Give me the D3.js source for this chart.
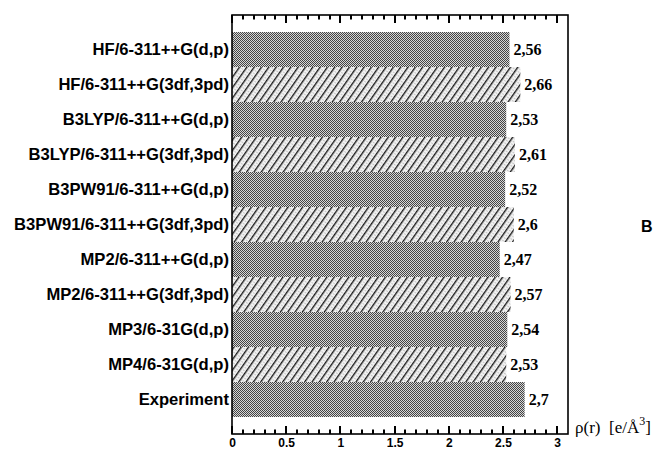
<!DOCTYPE html>
<html lang="en">
<head>
<meta charset="UTF-8">
<title>Electron density at bond critical point</title>
<script src="https://d3js.org/d3.v7.min.js"></script>
<style>
  body { margin: 0; background: #fff; }
  svg { display: block; }
</style>
</head>
<body>
<div id="chart"></div>
<script>
    const categories = [
        "HF/6-311++G(d,p)",
        "HF/6-311++G(3df,3pd)",
        "B3LYP/6-311++G(d,p)",
        "B3LYP/6-311++G(3df,3pd)",
        "B3PW91/6-311++G(d,p)",
        "B3PW91/6-311++G(3df,3pd)",
        "MP2/6-311++G(d,p)",
        "MP2/6-311++G(3df,3pd)",
        "MP3/6-31G(d,p)",
        "MP4/6-31G(d,p)",
        "Experiment"
    ];
    const values = [2.56, 2.66, 2.53, 2.61, 2.52, 2.6, 2.47, 2.57, 2.54, 2.53, 2.7];
    const majorTicks = [0, 0.5, 1, 1.5, 2, 2.5, 3];

    const width = 654;
    const height = 450;
    const svg = d3.select("#chart")
        .append("svg")
        .attr("width", width)
        .attr("height", height);

    const x = d3.scaleLinear().domain([0, 3.1]).range([232, 568]);
    const y = d3.scaleBand().domain(categories).range([32, 417]).padding(0);
    const frameTop = 15, frameBottom = 434;

    // fill patterns: dense checker and diagonal hatch
    const defs = svg.append("defs");
    const checker = defs.append("pattern")
        .attr("id", "checker")
        .attr("width", 2).attr("height", 2)
        .attr("patternUnits", "userSpaceOnUse");
    checker.append("rect").attr("width", 2).attr("height", 2).attr("fill", "#d6d6d6");
    checker.append("rect").attr("width", 1).attr("height", 1).attr("fill", "#444");
    checker.append("rect").attr("x", 1).attr("y", 1).attr("width", 1).attr("height", 1).attr("fill", "#444");

    const hatch = defs.append("pattern")
        .attr("id", "hatch")
        .attr("width", 6).attr("height", 6)
        .attr("patternUnits", "userSpaceOnUse")
        .attr("patternTransform", "rotate(35)");
    hatch.append("rect").attr("width", 6).attr("height", 6).attr("fill", "#f2f2f2");
    hatch.append("rect").attr("x", 0).attr("width", 1.4).attr("height", 6).attr("fill", "#1a1a1a");
    hatch.append("rect").attr("x", 3.5).attr("y", 1).attr("width", 1).attr("height", 1).attr("fill", "#999");
    hatch.append("rect").attr("x", 3.5).attr("y", 4).attr("width", 1).attr("height", 1).attr("fill", "#999");

    // bars
    svg.selectAll("rect.bar")
        .data(values)
        .enter()
        .append("rect")
        .attr("class", "bar")
        .attr("x", x(0))
        .attr("y", (d, i) => y(categories[i]))
        .attr("width", d => x(d) - x(0))
        .attr("height", y.bandwidth())
        .attr("fill", (d, i) => i % 2 === 0 ? "url(#checker)" : "url(#hatch)");

    // value labels with decimal comma
    const fmt = d3.formatLocale({decimal: ",", thousands: " ", grouping: [3], currency: ["", ""]}).format("~g");
    svg.selectAll("text.val")
        .data(values)
        .enter()
        .append("text")
        .attr("class", "val")
        .attr("x", d => x(d) + 4)
        .attr("y", (d, i) => y(categories[i]) + y.bandwidth() / 2)
        .attr("dy", "0.35em")
        .attr("font-family", "Liberation Serif, Times New Roman, serif")
        .attr("font-weight", "bold")
        .attr("font-size", 16)
        .text(d => fmt(d));

    // category labels
    svg.selectAll("text.cat")
        .data(categories)
        .enter()
        .append("text")
        .attr("class", "cat")
        .attr("x", 229)
        .attr("y", d => y(d) + y.bandwidth() / 2)
        .attr("dy", "0.35em")
        .attr("text-anchor", "end")
        .attr("font-family", "Liberation Sans, Arial, sans-serif")
        .attr("font-weight", "bold")
        .attr("font-size", 16.6)
        .text(d => d);

    // bottom axis labels
    const bottomAxis = d3.axisBottom(x)
        .tickValues(majorTicks)
        .tickSize(0)
        .tickPadding(4)
        .tickFormat(d3.format("~g"));
    const gb = svg.append("g").attr("class", "x-bottom")
        .attr("transform", `translate(0,${frameBottom})`)
        .call(bottomAxis);
    gb.select(".domain").remove();
    gb.selectAll(".tick text")
        .attr("font-family", "Liberation Sans, Arial, sans-serif")
        .attr("font-weight", "bold")
        .attr("font-size", 12)
        .attr("fill", "#000");

    // frame
    svg.append("rect")
        .attr("x", x(0))
        .attr("y", frameTop)
        .attr("width", x(3.1) - x(0))
        .attr("height", frameBottom - frameTop)
        .attr("fill", "none")
        .attr("stroke", "#000")
        .attr("stroke-width", 1.6);

    // inward tick marks on top and bottom edges: every 0.1, longer every 0.5
    const allTicks = d3.range(0, 31).map(i => i / 10);
    const isMajor = v => majorTicks.some(m => Math.abs(m - v) < 1e-9);
    const tickLen = v => isMajor(v) ? 8 : 4.5;

    svg.selectAll("rect.bt")
        .data(allTicks)
        .enter()
        .append("rect")
        .attr("class", "bt")
        .attr("x", d => Math.round(x(d)) - 1)
        .attr("width", 2)
        .attr("y", d => frameBottom - tickLen(d))
        .attr("height", d => tickLen(d))
        .attr("fill", "#000");
    svg.selectAll("rect.tt")
        .data(allTicks)
        .enter()
        .append("rect")
        .attr("class", "tt")
        .attr("x", d => Math.round(x(d)) - 1)
        .attr("width", 2)
        .attr("y", frameTop)
        .attr("height", d => tickLen(d))
        .attr("fill", "#000");

    // axis title
    const title = svg.append("text")
        .attr("x", 575)
        .attr("y", 433)
        .attr("font-family", "Liberation Serif, Times New Roman, serif")
        .attr("font-size", 17)
        .attr("fill", "#000");
    title.append("tspan").text("\u03c1(r)\u00a0\u00a0[e/\u00c5");
    title.append("tspan").attr("dy", -8).attr("font-size", 12).text("3");
    title.append("tspan").attr("dy", 8).text("]");

    // panel letter
    svg.append("text")
        .attr("x", 641)
        .attr("y", 232)
        .attr("font-family", "Liberation Sans, Arial, sans-serif")
        .attr("font-weight", "bold")
        .attr("font-size", 16)
        .text("B");
</script>
</body>
</html>
